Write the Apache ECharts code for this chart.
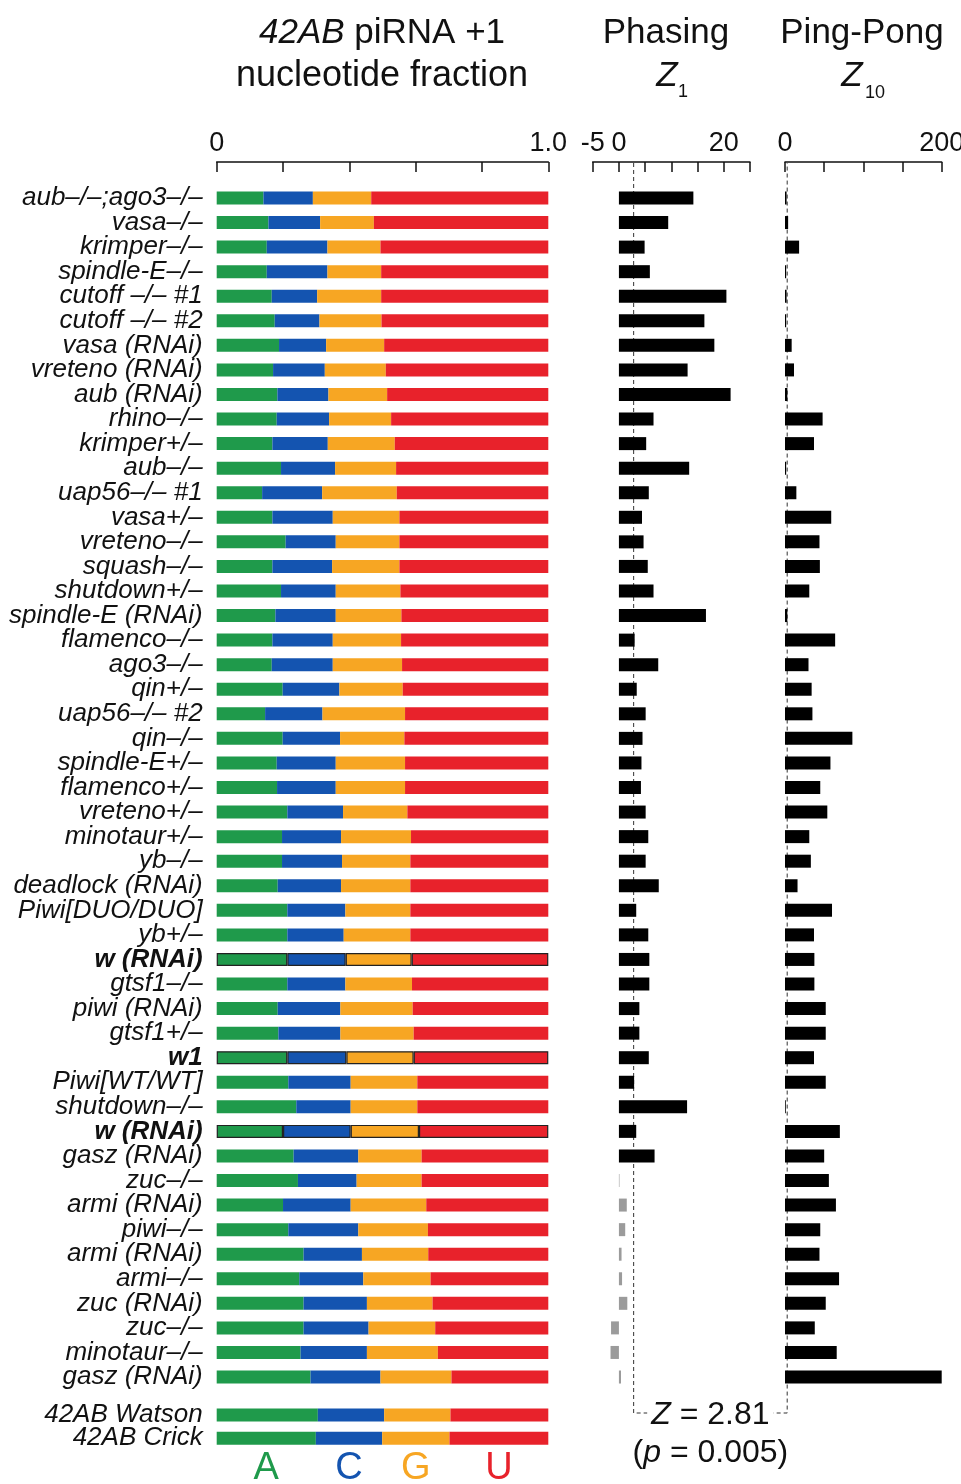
<!DOCTYPE html>
<html>
<head>
<meta charset="utf-8">
<script src="https://cdn.jsdelivr.net/npm/echarts@6/dist/echarts.min.js"></script>
<style>
  html, body { margin: 0; padding: 0; background: #fff; }
  #main { width: 961px; height: 1484px; }
</style>
</head>
<body>
<div id="main"></div>
<script>
// samples, top to bottom
var samples = [
  'aub–/–;ago3–/–', 'vasa–/–', 'krimper–/–', 'spindle-E–/–', 'cutoff –/– #1', 'cutoff –/– #2',
  'vasa (RNAi)', 'vreteno (RNAi)', 'aub (RNAi)', 'rhino–/–', 'krimper+/–', 'aub–/–',
  'uap56–/– #1', 'vasa+/–', 'vreteno–/–', 'squash–/–', 'shutdown+/–', 'spindle-E (RNAi)',
  'flamenco–/–', 'ago3–/–', 'qin+/–', 'uap56–/– #2', 'qin–/–', 'spindle-E+/–',
  'flamenco+/–', 'vreteno+/–', 'minotaur+/–', 'yb–/–', 'deadlock (RNAi)', 'Piwi[DUO/DUO]',
  'yb+/–', 'w (RNAi)', 'gtsf1–/–', 'piwi (RNAi)', 'gtsf1+/–', 'w1',
  'Piwi[WT/WT]', 'shutdown–/–', 'w (RNAi)', 'gasz (RNAi)', 'zuc–/–', 'armi (RNAi)',
  'piwi–/–', 'armi (RNAi)', 'armi–/–', 'zuc (RNAi)', 'zuc–/–', 'minotaur–/–', 'gasz (RNAi)'
];
var boldSamples = ['w (RNAi)', 'w1'];

// +1 nucleotide fractions
var fracA = [0.141, 0.156, 0.151, 0.151, 0.166, 0.175, 0.188, 0.170, 0.183, 0.181, 0.168, 0.194,
  0.137, 0.168, 0.208, 0.168, 0.194, 0.177, 0.168, 0.166, 0.199, 0.146, 0.199, 0.181,
  0.182, 0.213, 0.197, 0.197, 0.184, 0.213, 0.213, 0.213, 0.213, 0.184, 0.186, 0.213,
  0.216, 0.240, 0.200, 0.232, 0.245, 0.200, 0.216, 0.262, 0.249, 0.262, 0.262, 0.253, 0.283];
var fracC = [0.149, 0.156, 0.183, 0.183, 0.137, 0.135, 0.142, 0.156, 0.154, 0.158, 0.167, 0.163,
  0.181, 0.182, 0.151, 0.180, 0.165, 0.182, 0.182, 0.184, 0.171, 0.173, 0.173, 0.178,
  0.177, 0.168, 0.178, 0.181, 0.191, 0.175, 0.170, 0.176, 0.175, 0.189, 0.187, 0.178,
  0.188, 0.164, 0.204, 0.195, 0.177, 0.204, 0.211, 0.176, 0.193, 0.191, 0.196, 0.200, 0.211];
var fracG = [0.176, 0.162, 0.160, 0.162, 0.193, 0.187, 0.175, 0.184, 0.177, 0.187, 0.202, 0.184,
  0.225, 0.201, 0.192, 0.203, 0.195, 0.198, 0.206, 0.209, 0.191, 0.249, 0.194, 0.209,
  0.209, 0.194, 0.211, 0.206, 0.209, 0.196, 0.201, 0.199, 0.201, 0.218, 0.221, 0.203,
  0.201, 0.201, 0.206, 0.191, 0.196, 0.228, 0.210, 0.200, 0.203, 0.198, 0.201, 0.214, 0.214];
var fracU = [0.534, 0.526, 0.506, 0.504, 0.504, 0.503, 0.495, 0.490, 0.486, 0.474, 0.463, 0.459,
  0.457, 0.449, 0.449, 0.449, 0.446, 0.443, 0.444, 0.441, 0.439, 0.432, 0.434, 0.432,
  0.432, 0.425, 0.414, 0.416, 0.416, 0.416, 0.416, 0.412, 0.411, 0.409, 0.406, 0.406,
  0.395, 0.395, 0.390, 0.382, 0.382, 0.368, 0.363, 0.362, 0.355, 0.349, 0.341, 0.333, 0.292];

// 42AB strands
var controls = ['42AB Watson', '42AB Crick'];
var ctlA = [0.305, 0.299];
var ctlC = [0.200, 0.200];
var ctlG = [0.200, 0.203];
var ctlU = [0.295, 0.298];

var nucleotides = ['A', 'C', 'G', 'U'];
var ntColors = ['#1f9a4b', '#1454b0', '#f7a623', '#e8222b'];

// phasing Z1 and ping-pong Z10 per sample
var phasingZ1 = [14.2, 9.4, 4.9, 5.9, 20.5, 16.3, 18.2, 13.1, 21.3, 6.6, 5.2, 13.4,
  5.7, 4.4, 4.7, 5.5, 6.6, 16.6, 3.0, 7.5, 3.4, 5.1, 4.5, 4.3,
  4.2, 5.1, 5.6, 5.1, 7.6, 3.3, 5.6, 5.8, 5.8, 3.9, 3.9, 5.7,
  2.9, 13.0, 3.3, 6.8, 0.1, 1.5, 1.2, 0.5, 0.6, 1.6, -1.5, -1.6, 0.4];
var pingpongZ10 = [2, 4, 18, 1.5, 2, 1.5, 8.5, 11.5, 3, 48, 37, 1.5,
  14.5, 59, 44, 44.5, 31, 3, 64, 30, 34, 35, 86, 58,
  45, 54, 31, 33, 16, 60, 37, 37.5, 37.5, 52, 52, 37,
  52, 1, 70, 50, 56, 65, 45, 44, 69, 52, 38, 66, 200];

var zThreshold = 2.81;
var pValue = '0.005';

var sans = "'Liberation Sans', Arial, sans-serif";

var rowTop = 185.7, rowHeight = 1203.6;

function valueAxis(grid, min, max, interval, shown) {
  return {
    type: 'value', gridIndex: grid, position: 'top', offset: 23.7,
    min: min, max: max, interval: interval,
    axisLine: { show: true, lineStyle: { color: '#111', width: 1.5 } },
    axisTick: { show: true, inside: true, length: 10, lineStyle: { color: '#111', width: 1.5 } },
    splitLine: { show: false },
    axisLabel: {
      margin: 5, color: '#111', fontSize: 27, fontFamily: sans,
      formatter: function (v) {
        if (shown.indexOf(v) < 0) return '';
        return v === 1 ? '1.0' : String(v);
      }
    }
  };
}

function catAxis(grid, names, showLabels) {
  return {
    type: 'category', gridIndex: grid, data: names, inverse: true,
    axisLine: { show: false }, axisTick: { show: false }, splitLine: { show: false },
    axisLabel: {
      show: showLabels, interval: 0, margin: 14, color: '#111',
      fontSize: 26, fontStyle: 'italic', fontFamily: sans,
      formatter: function (v) {
        return boldSamples.indexOf(v) >= 0 ? '{b|' + v + '}' : v;
      },
      rich: { b: { fontWeight: 'bold', fontStyle: 'italic', fontSize: 26, fontFamily: sans, color: '#111' } }
    }
  };
}

var fracArrays = [fracA, fracC, fracG, fracU];
var ctlArrays = [ctlA, ctlC, ctlG, ctlU];
var series = [];

nucleotides.forEach(function (nt, k) {
  series.push({
    name: nt, type: 'bar', stack: 'nt', xAxisIndex: 0, yAxisIndex: 0,
    barWidth: 13, itemStyle: { color: ntColors[k] },
    data: fracArrays[k].map(function (v, i) {
      if (boldSamples.indexOf(samples[i]) >= 0) {
        return { value: v, itemStyle: { borderColor: '#222', borderWidth: 1.2 } };
      }
      return v;
    })
  });
});

nucleotides.forEach(function (nt, k) {
  series.push({
    name: nt, type: 'bar', stack: 'ctl', xAxisIndex: 3, yAxisIndex: 3,
    barWidth: 13, itemStyle: { color: ntColors[k] },
    data: ctlArrays[k].map(function (v, i) {
      if (i !== controls.length - 1) return v;
      return {
        value: v,
        label: {
          show: true, position: 'bottom', distance: 5, formatter: nt,
          color: ntColors[k], fontSize: 38, fontFamily: sans
        }
      };
    })
  });
});

series.push({
  name: 'Phasing', type: 'bar', xAxisIndex: 1, yAxisIndex: 1, barWidth: 13,
  data: phasingZ1.map(function (v) {
    return { value: v, itemStyle: { color: v >= zThreshold ? '#000' : '#9b9b9b' } };
  })
});
series.push({
  name: 'Ping-Pong', type: 'bar', xAxisIndex: 2, yAxisIndex: 2, barWidth: 13,
  itemStyle: { color: '#000' },
  data: pingpongZ10
});

var chart = echarts.init(document.getElementById('main'));
chart.setOption({
  animation: false,
  backgroundColor: '#fff',
  grid: [
    { left: 216.7, top: rowTop, width: 331.6, height: rowHeight, outerBoundsMode: 'none' },
    { left: 592.7, top: rowTop, width: 157.3, height: rowHeight, outerBoundsMode: 'none' },
    { left: 785, top: rowTop, width: 156.7, height: rowHeight, outerBoundsMode: 'none' },
    { left: 216.7, top: 1403.3, width: 331.6, height: 46.6, outerBoundsMode: 'none' }
  ],
  xAxis: [
    valueAxis(0, 0, 1, 0.2, [0, 1]),
    valueAxis(1, -5, 25, 5, [-5, 0, 20]),
    valueAxis(2, 0, 200, 50, [0, 200]),
    { type: 'value', gridIndex: 3, min: 0, max: 1, show: false }
  ],
  yAxis: [
    catAxis(0, samples, true),
    catAxis(1, samples, false),
    catAxis(2, samples, false),
    catAxis(3, controls, true)
  ],
  series: series
});

// threshold dashed bracket through both Z panels
var xPh = chart.convertToPixel({ xAxisIndex: 1 }, zThreshold);
var xPp = chart.convertToPixel({ xAxisIndex: 2 }, zThreshold);
var dash = { stroke: '#333', lineWidth: 1, lineDash: [4, 3], fill: null };

chart.setOption({
  graphic: [
    { type: 'polyline', silent: true, z: 1,
      shape: { points: [[xPh, 163], [xPh, 1413], [xPp, 1413], [xPp, 163]] }, style: dash },
    { type: 'text', z: 5, style: {
      text: '{i|Z} = ' + zThreshold, x: (xPh + xPp) / 2, y: 1415, align: 'center', verticalAlign: 'middle',
      backgroundColor: '#fff', padding: [0, 4], fill: '#111', font: '32px ' + sans,
      rich: { i: { fontStyle: 'italic', fontSize: 32, fontFamily: sans, fill: '#111' } } } },
    { type: 'text', style: {
      text: '({i|p} = ' + pValue + ')', x: (xPh + xPp) / 2, y: 1453, align: 'center', verticalAlign: 'middle',
      fill: '#111', font: '32px ' + sans,
      rich: { i: { fontStyle: 'italic', fontSize: 32, fontFamily: sans, fill: '#111' } } } },

    // titles
    { type: 'text', style: {
      text: '{i|42AB} piRNA +1', x: 382, y: 33, align: 'center', verticalAlign: 'middle',
      fill: '#111', font: '35px ' + sans,
      rich: { i: { fontStyle: 'italic', fontSize: 35, fontFamily: sans, fill: '#111' } } } },
    { type: 'text', style: { text: 'nucleotide fraction', x: 382, y: 76, align: 'center',
      verticalAlign: 'middle', fill: '#111', font: '36px ' + sans } },
    { type: 'text', style: { text: 'Phasing', x: 666, y: 33, align: 'center',
      verticalAlign: 'middle', fill: '#111', font: '35px ' + sans } },
    { type: 'text', style: { text: 'Z', x: 667, y: 76, align: 'center',
      verticalAlign: 'middle', fill: '#111', font: 'italic 35px ' + sans } },
    { type: 'text', style: { text: '1', x: 683, y: 92, align: 'center',
      verticalAlign: 'middle', fill: '#111', font: '18px ' + sans } },
    { type: 'text', style: { text: 'Ping-Pong', x: 862, y: 33, align: 'center',
      verticalAlign: 'middle', fill: '#111', font: '35px ' + sans } },
    { type: 'text', style: { text: 'Z', x: 852, y: 76, align: 'center',
      verticalAlign: 'middle', fill: '#111', font: 'italic 35px ' + sans } },
    { type: 'text', style: { text: '10', x: 875, y: 93, align: 'center',
      verticalAlign: 'middle', fill: '#111', font: '18px ' + sans } }
  ]
});
</script>
</body>
</html>
